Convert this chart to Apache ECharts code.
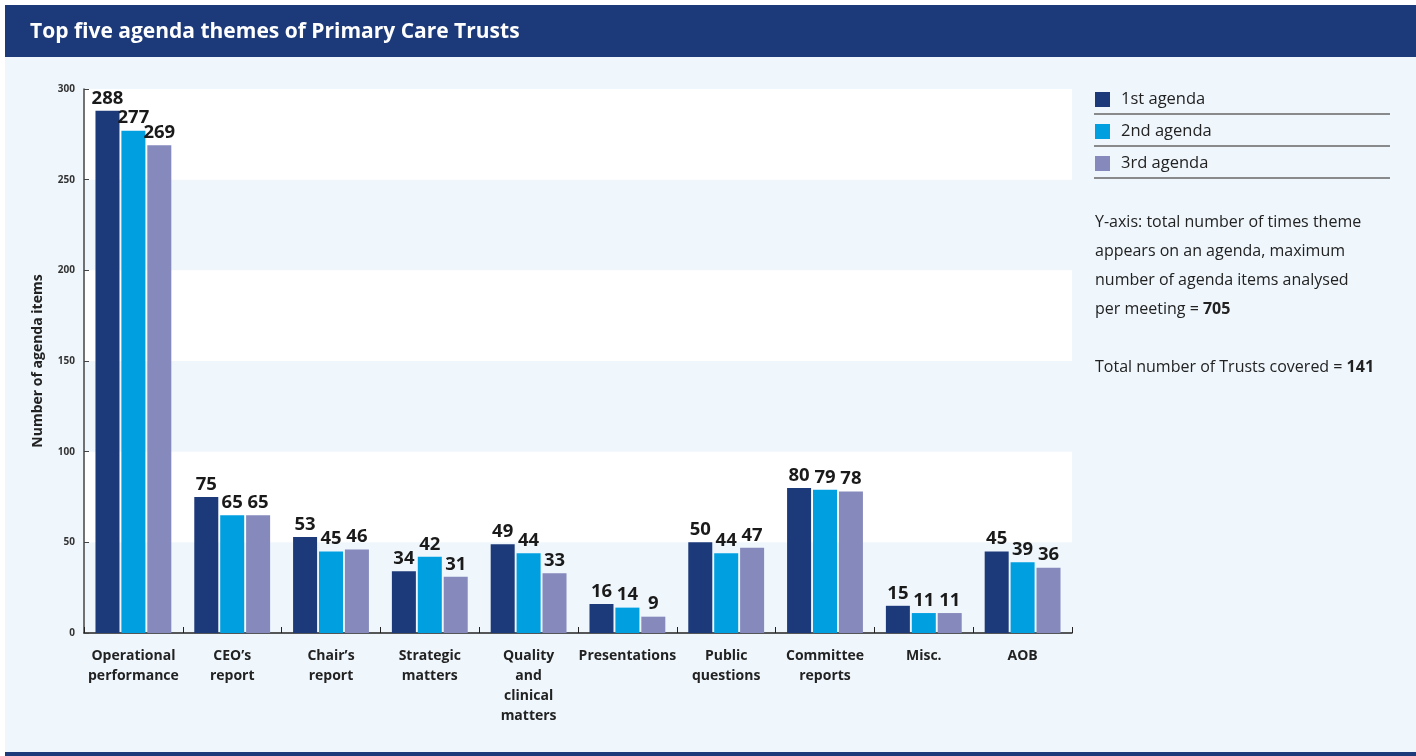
<!DOCTYPE html>
<html>
<head>
<meta charset="utf-8">
<script src="https://cdn.jsdelivr.net/npm/echarts@6/dist/echarts.min.js"></script>
<style>
  html, body { margin: 0; padding: 0; background: #fff; }
  #chart { width: 1416px; height: 756px; }
</style>
</head>
<body>
<div id="chart"></div>
<script>
const categories = ["Operational\nperformance", "CEO’s\nreport", "Chair’s\nreport", "Strategic\nmatters",
  "Quality\nand\nclinical\nmatters", "Presentations", "Public\nquestions", "Committee\nreports", "Misc.", "AOB"];
const seriesNames = ["1st agenda", "2nd agenda", "3rd agenda"];
const first = [288, 75, 53, 34, 49, 16, 50, 80, 15, 45];
const second = [277, 65, 45, 42, 44, 14, 44, 79, 11, 39];
const third = [269, 65, 46, 31, 33, 9, 47, 78, 11, 36];
const colors = ["#1c3a7a", "#009fe0", "#8589bc"];
const yTicks = [0, 50, 100, 150, 200, 250, 300];

const font = "'Open Sans', 'Noto Sans', sans-serif";
let myChart = echarts.init(document.getElementById("chart"));

function bar(name, data, color) {
  return {
    type: "bar",
    name: name,
    data: data,
    barWidth: 24,
    barGap: "8%",
    itemStyle: { color: color },
    label: {
      show: true,
      position: "top",
      distance: 3,
      fontFamily: font,
      fontWeight: "bold",
      fontSize: 18.5,
      color: "#1a1a1a"
    }
  };
}

let option = {
  backgroundColor: "#fff",
  animation: false,
  title: {
    text: "Top five agenda themes of Primary Care Trusts",
    left: 25,
    top: 17,
    textStyle: { color: "#fff", fontFamily: font, fontWeight: "bold", fontSize: 21 }
  },
  graphic: [
    { type: "rect", z: -10, shape: { x: 5, y: 5, width: 1411, height: 751 }, style: { fill: "#eff7fd" } },
    { type: "rect", z: -5, shape: { x: 5, y: 5, width: 1411, height: 52 }, style: { fill: "#1c3a7a" } },
    { type: "rect", z: -5, shape: { x: 5, y: 752, width: 1411, height: 4 }, style: { fill: "#1c3a7a" } },
    { type: "line", shape: { x1: 1094, y1: 114, x2: 1390, y2: 114 }, style: { stroke: "#666", lineWidth: 1.5 } },
    { type: "line", shape: { x1: 1094, y1: 146, x2: 1390, y2: 146 }, style: { stroke: "#666", lineWidth: 1.5 } },
    { type: "line", shape: { x1: 1094, y1: 178, x2: 1390, y2: 178 }, style: { stroke: "#666", lineWidth: 1.5 } },
    {
      type: "text", left: 1095, top: 208,
      style: {
        text: "Y-axis: total number of times theme\nappears on an agenda, maximum\nnumber of agenda items analysed\nper meeting = {b|705}\n\nTotal number of Trusts covered = {b|141}",
        fontFamily: font, fontSize: 16, lineHeight: 29, fill: "#222",
        rich: { b: { fontFamily: font, fontSize: 16, fontWeight: "bold", fill: "#222", lineHeight: 29 } }
      }
    }
  ],
  legend: {
    orient: "vertical",
    left: 1090,
    top: 86,
    itemWidth: 15,
    itemHeight: 15,
    itemGap: 15,
    icon: "rect",
    data: seriesNames,
    textStyle: { fontFamily: font, fontSize: 16.5, color: "#222", padding: [0, 0, 0, 6] }
  },
  grid: { left: 84, right: 344, top: 89, bottom: 123 },
  xAxis: {
    type: "category",
    data: categories,
    axisLine: { lineStyle: { color: "#222", width: 1.5 } },
    axisTick: { show: true, inside: true, length: 6, lineStyle: { color: "#222" } },
    axisLabel: {
      interval: 0, margin: 13,
      fontFamily: font, fontWeight: "bold", fontSize: 14, lineHeight: 20, color: "#222"
    }
  },
  yAxis: {
    type: "value",
    min: 0,
    max: 300,
    interval: 50,
    name: "Number of agenda items",
    nameLocation: "middle",
    nameGap: 39,
    nameTextStyle: { fontFamily: font, fontWeight: "bold", fontSize: 14, color: "#222" },
    axisLine: { show: true, lineStyle: { color: "#444", width: 1.5 } },
    axisTick: { show: true, inside: true, length: 5, lineStyle: { color: "#444" } },
    axisLabel: {
      margin: 9, fontFamily: font, fontWeight: "bold", fontSize: 10, color: "#333",
      formatter: (v) => (yTicks.includes(v) ? String(v) : "")
    },
    splitLine: { show: false },
    splitArea: { show: true, areaStyle: { color: ["rgba(0,0,0,0)", "#ffffff"] } }
  },
  series: [
    bar(seriesNames[0], first, colors[0]),
    bar(seriesNames[1], second, colors[1]),
    bar(seriesNames[2], third, colors[2])
  ]
};
myChart.setOption(option);
</script>
</body>
</html>
